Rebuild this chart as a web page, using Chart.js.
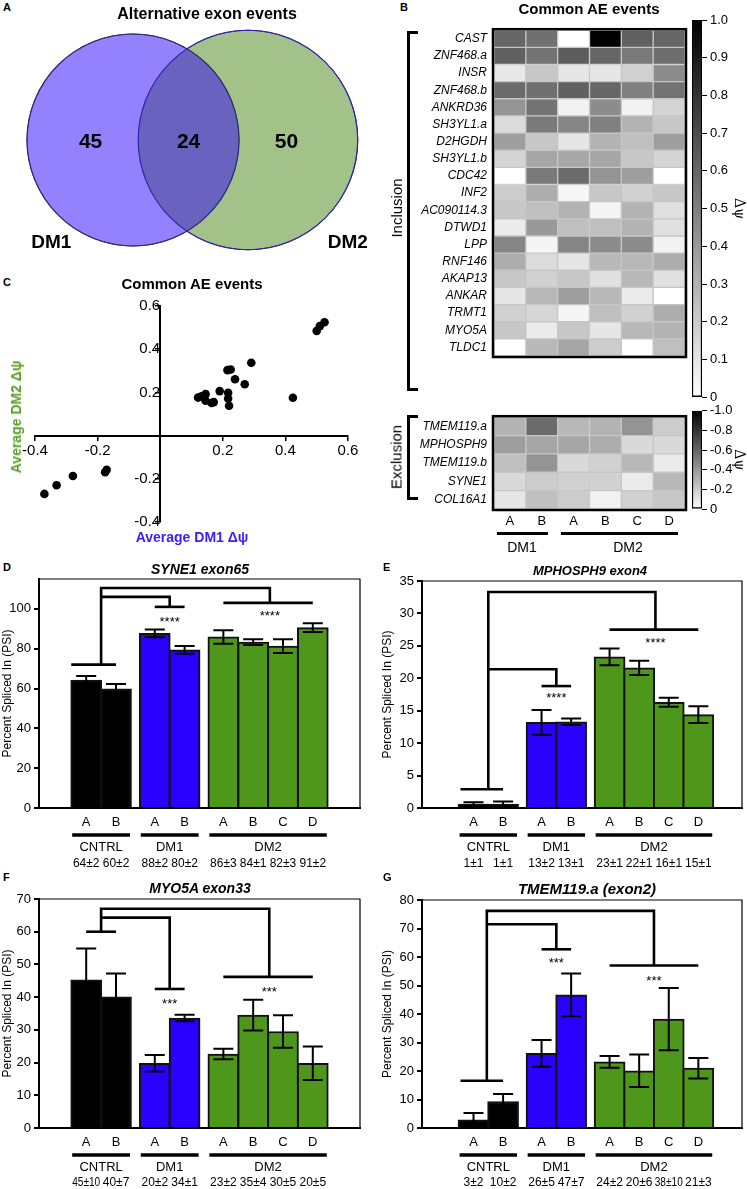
<!DOCTYPE html>
<html>
<head>
<meta charset="utf-8">
<script src="https://cdn.jsdelivr.net/npm/chart.js@4.4.1/dist/chart.umd.min.js"></script>
<style>
  body { margin: 0; width: 747px; height: 1189px; position: relative; background: #fff; overflow: hidden;
         font-family: "Liberation Sans", Arial, sans-serif; color: #000; }
  canvas { position: absolute; }
  .t { position: absolute; white-space: nowrap; transform: translate(-50%, -50%); z-index: 2; }
  .b { font-weight: bold; }
  .lt { position: absolute; font-weight: bold; font-size: 11px; }
  .rot { transform: translate(-50%, -50%) rotate(-90deg); }
  .ul { position: absolute; height: 3px; background: #000; }
  .br { position: absolute; border: 3px solid #000; border-right: none; width: 8px; }
</style>
</head>
<body>
<!-- A -->
<div class="lt" style="left:3px;top:1px">A</div>
<div class="t b" style="left:207px;top:14px;font-size:16px">Alternative exon events</div>
<canvas id="venn" width="390" height="270" style="left:0;top:0"></canvas>

<!-- B -->
<div class="lt" style="left:400px;top:1px">B</div>
<div class="t b" style="left:589px;top:8px;font-size:15px">Common AE events</div>
<canvas id="heatIncl" width="290" height="390" style="left:400px;top:16px"></canvas>
<canvas id="heatExcl" width="290" height="150" style="left:400px;top:403px"></canvas>
<canvas id="barIncl" width="59" height="400" style="left:688px;top:8px"></canvas>
<canvas id="barExcl" width="59" height="120" style="left:688px;top:400px"></canvas>
<div class="br" style="left:407px;top:31px;height:354px"></div>
<div class="t rot" style="left:396px;top:208px;font-size:15px">Inclusion</div>
<div class="br" style="left:407px;top:415px;height:79px"></div>
<div class="t rot" style="left:396px;top:457px;font-size:15px">Exclusion</div>
<div class="ul" style="left:497px;top:532px;width:51px"></div>
<div class="ul" style="left:561px;top:532px;width:117px"></div>
<div class="t" style="left:522px;top:547px;font-size:14px">DM1</div>
<div class="t" style="left:628px;top:547px;font-size:14px">DM2</div>

<!-- C -->
<div class="lt" style="left:3px;top:276px">C</div>
<div class="t b" style="left:192px;top:283px;font-size:15px">Common AE events</div>
<canvas id="scatter" width="390" height="260" style="left:0;top:290px"></canvas>
<div class="t b rot" style="left:16px;top:417px;font-size:14px;color:#5a9e28">Average DM2 Δψ</div>
<div class="t b" style="left:192px;top:537px;font-size:14px;color:#3a1cff">Average DM1 Δψ</div>

<!-- D-G -->
<div class="lt" style="left:3px;top:561px">D</div>
<div class="t b" style="left:200px;top:569px;font-size:14px;font-style:italic">SYNE1 exon65</div>
<canvas id="psiD" width="375" height="310" style="left:0;top:560px"></canvas>
<div class="lt" style="left:383px;top:561px">E</div>
<div class="t b" style="left:590px;top:570px;font-size:13px;font-style:italic">MPHOSPH9 exon4</div>
<canvas id="psiE" width="367" height="310" style="left:380px;top:560px"></canvas>
<div class="lt" style="left:3px;top:871px">F</div>
<div class="t b" style="left:200px;top:888px;font-size:14px;font-style:italic">MYO5A exon33</div>
<canvas id="psiF" width="375" height="319" style="left:0;top:870px"></canvas>
<div class="lt" style="left:383px;top:871px">G</div>
<div class="t b" style="left:587px;top:888px;font-size:15px;font-style:italic">TMEM119.a (exon2)</div>
<canvas id="psiG" width="367" height="319" style="left:380px;top:870px"></canvas>

<script>
// ---- data ----
const vennSets = ['DM1', 'DM2'];
const vennCounts = [45, 24, 50]; // DM1 only, shared, DM2 only

const heatCols = ['A', 'B', 'A', 'B', 'C', 'D'];
const inclGenes = ['CAST', 'ZNF468.a', 'INSR', 'ZNF468.b', 'ANKRD36', 'SH3YL1.a', 'D2HGDH', 'SH3YL1.b', 'CDC42',
  'INF2', 'AC090114.3', 'DTWD1', 'LPP', 'RNF146', 'AKAP13', 'ANKAR', 'TRMT1', 'MYO5A', 'TLDC1'];
const inclDpsi = [
  [0.60, 0.56, 0.00, 1.00, 0.62, 0.60],
  [0.62, 0.55, 0.64, 0.60, 0.52, 0.57],
  [0.09, 0.22, 0.10, 0.10, 0.18, 0.45],
  [0.58, 0.56, 0.62, 0.60, 0.50, 0.55],
  [0.42, 0.55, 0.05, 0.45, 0.05, 0.17],
  [0.14, 0.52, 0.48, 0.50, 0.30, 0.22],
  [0.38, 0.22, 0.10, 0.30, 0.25, 0.38],
  [0.17, 0.35, 0.34, 0.35, 0.22, 0.17],
  [0.00, 0.52, 0.58, 0.42, 0.38, 0.00],
  [0.20, 0.32, 0.03, 0.22, 0.18, 0.22],
  [0.22, 0.25, 0.30, 0.04, 0.30, 0.12],
  [0.08, 0.40, 0.25, 0.25, 0.30, 0.12],
  [0.48, 0.04, 0.48, 0.45, 0.45, 0.05],
  [0.32, 0.14, 0.10, 0.28, 0.28, 0.32],
  [0.22, 0.18, 0.22, 0.12, 0.28, 0.12],
  [0.10, 0.28, 0.38, 0.28, 0.08, 0.00],
  [0.18, 0.16, 0.04, 0.25, 0.18, 0.32],
  [0.22, 0.08, 0.22, 0.10, 0.28, 0.30],
  [0.00, 0.28, 0.35, 0.20, 0.00, 0.25]
];
const exclGenes = ['TMEM119.a', 'MPHOSPH9', 'TMEM119.b', 'SYNE1', 'COL16A1'];
const exclDpsi = [
  [-0.30, -0.58, -0.28, -0.30, -0.42, -0.20],
  [-0.38, -0.35, -0.35, -0.32, -0.15, -0.15],
  [-0.25, -0.42, -0.15, -0.18, -0.28, -0.08],
  [-0.15, -0.20, -0.18, -0.18, -0.08, -0.28],
  [-0.10, -0.25, -0.20, -0.05, -0.18, -0.22]
];

const dm1Avg = [0.50, 0.51, 0.525, 0.291, 0.215, 0.225, 0.239, 0.270, 0.190, 0.217, 0.217, 0.220, 0.424,
  0.121, 0.132, 0.145, 0.145, 0.164, 0.171, -0.171, -0.176, -0.279, -0.331, -0.370];
const dm2Avg = [0.485, 0.507, 0.525, 0.337, 0.303, 0.306, 0.261, 0.238, 0.206, 0.198, 0.172, 0.138, 0.175,
  0.176, 0.182, 0.192, 0.161, 0.151, 0.155, -0.158, -0.170, -0.187, -0.230, -0.270];

const barLetters = ['A', 'B', 'A', 'B', 'A', 'B', 'C', 'D'];
const barGroups = ['CNTRL', 'DM1', 'DM2'];
const groupSizes = [2, 2, 4];
const groupColors = ['#000000', '#2a00ff', '#4f971b'];

const synePsi = [64.3, 59.9, 87.7, 79.4, 85.9, 83.3, 81.3, 90.6];
const syneErr = [2.0, 2.4, 2.0, 2.0, 3.4, 1.4, 3.4, 2.2];
const syneLbl = ['64±2', '60±2', '88±2', '80±2', '86±3', '84±1', '82±3', '91±2'];

const mphPsi = [0.6, 0.6, 13.2, 13.3, 23.3, 21.6, 16.3, 14.4];
const mphErr = [0.3, 0.4, 1.9, 0.5, 1.3, 1.1, 0.7, 1.3];
const mphLbl = ['1±1', '1±1', '13±2', '13±1', '23±1', '22±1', '16±1', '15±1'];

const myoPsi = [45.3, 40.1, 19.8, 33.6, 22.6, 34.5, 29.5, 19.8];
const myoErr = [9.6, 7.1, 2.5, 1.0, 1.6, 4.7, 5.0, 5.1];
const myoLbl = ['45±10', '40±7', '20±2', '34±1', '23±2', '35±4', '30±5', '20±5'];

const tmemPsi = [2.9, 9.3, 26.2, 46.7, 23.2, 20.1, 38.2, 21.0];
const tmemErr = [2.4, 2.6, 4.7, 7.5, 2.1, 5.7, 10.9, 3.6];
const tmemLbl = ['3±2', '10±2', '26±5', '47±7', '24±2', '20±6', '38±10', '21±3'];

// ---- setup ----
Chart.defaults.font.family = '"Liberation Sans", Arial, sans-serif';
Chart.defaults.color = '#000';
Chart.defaults.animation = false;
Chart.defaults.responsive = false;
Chart.defaults.plugins.legend.display = false;
Chart.defaults.plugins.tooltip.enabled = false;

// bar slots: groups separated by a small gap
const barPos = [];
let p = 0;
groupSizes.forEach((n, g) => {
  for (let i = 0; i < n; i++) barPos.push(p + i);
  p += n + 0.3;
});
const barColors = [];
groupSizes.forEach((n, g) => { for (let i = 0; i < n; i++) barColors.push(groupColors[g]); });

// ---- A : venn ----
new Chart(document.getElementById('venn'), {
  type: 'bubble',
  data: {
    datasets: [
      { label: vennSets[0], data: [{ x: -1, y: 0, r: 12.76 * Math.sqrt(vennCounts[0] + vennCounts[1]) }],
        backgroundColor: '#9481fe', borderColor: '#2f2f70', borderWidth: 1, clip: false },
      { label: vennSets[1], data: [{ x: 1, y: 0, r: 12.76 * Math.sqrt(vennCounts[2] + vennCounts[1]) }],
        backgroundColor: '#a3c28a', borderColor: '#2f2f70', borderWidth: 1, clip: false }
    ]
  },
  options: {
    layout: { padding: 0, autoPadding: false },
    scales: {
      x: { display: false, min: -3.313, max: 3.47 },
      y: { display: false, min: -0.963, max: 1.037 }
    }
  },
  plugins: [{
    id: 'vennOverlap',
    afterDatasetsDraw(chart) {
      const ctx = chart.ctx;
      const a = chart.getDatasetMeta(0).data[0], b = chart.getDatasetMeta(1).data[0];
      const ra = a.options.radius, rb = b.options.radius;
      ctx.save();
      ctx.beginPath(); ctx.arc(a.x, a.y, ra, 0, Math.PI * 2); ctx.clip();
      ctx.beginPath(); ctx.arc(b.x, b.y, rb, 0, Math.PI * 2);
      ctx.fillStyle = '#6a62bf'; ctx.fill();
      ctx.restore();
      ctx.save();
      ctx.lineWidth = 1.2;
      ctx.strokeStyle = '#2f2f70';
      ctx.beginPath(); ctx.arc(a.x, a.y, ra, 0, Math.PI * 2); ctx.stroke();
      ctx.strokeStyle = '#2e22b0';
      ctx.beginPath(); ctx.arc(b.x, b.y, rb, 0, Math.PI * 2); ctx.stroke();
      ctx.fillStyle = '#000';
      ctx.textAlign = 'center'; ctx.textBaseline = 'middle';
      ctx.font = 'bold 21px "Liberation Sans", Arial, sans-serif';
      const xi = (b.x - rb + a.x + ra) / 2;
      ctx.fillText(vennCounts[0], a.x - 0.4 * ra, a.y + 2);
      ctx.fillText(vennCounts[1], xi, a.y + 2);
      ctx.fillText(vennCounts[2], b.x + 0.35 * rb, a.y + 2);
      ctx.font = 'bold 19px "Liberation Sans", Arial, sans-serif';
      ctx.fillText(vennSets[0], a.x - 0.77 * ra, a.y + 103);
      ctx.fillText(vennSets[1], b.x + 0.91 * rb, a.y + 103);
      ctx.restore();
    }
  }]
});

// ---- B : heatmaps ----
function gray(v) {
  const g = Math.round(255 * (1 - Math.min(1, Math.abs(v))));
  return `rgb(${g},${g},${g})`;
}

const heatFrame = {
  id: 'heatFrame',
  afterDatasetsDraw(chart) {
    const { ctx, chartArea: a } = chart;
    ctx.save();
    ctx.lineWidth = 2.5;
    ctx.strokeStyle = '#000';
    ctx.strokeRect(a.left - 1, a.top - 1, a.right - a.left + 2, a.bottom - a.top + 2);
    ctx.restore();
  }
};

function heatChart(id, genes, vals, showCols, pad) {
  return new Chart(document.getElementById(id), {
    type: 'bar',
    data: {
      labels: genes,
      datasets: heatCols.map((c, j) => ({
        label: c,
        data: genes.map(() => [j, j + 1]),
        backgroundColor: vals.map(row => gray(row[j])),
        borderColor: '#c6c6c6',
        borderWidth: 1,
        borderSkipped: false,
        grouped: false,
        barPercentage: 1,
        categoryPercentage: 1
      }))
    },
    options: {
      indexAxis: 'y',
      layout: { padding: pad },
      scales: {
        x: {
          type: 'linear', min: 0, max: 6, display: showCols,
          afterBuildTicks: s => { s.ticks = heatCols.map((c, j) => ({ value: j + 0.5 })); },
          ticks: { callback: (v, i) => heatCols[i], font: { size: 13 }, padding: 5, maxRotation: 0, autoSkip: false },
          grid: { display: false, drawTicks: false, tickLength: 0 },
          border: { display: false },
          afterFit: s => { s.height = 44; }
        },
        y: {
          ticks: { font: { size: 12, style: 'italic' }, padding: 7, autoSkip: false },
          grid: { display: false, drawTicks: false, tickLength: 0 },
          border: { display: false },
          afterFit: s => { s.width = 94; }
        }
      }
    },
    plugins: [heatFrame]
  });
}
heatChart('heatIncl', inclGenes, inclDpsi, false, { top: 5, bottom: 6, right: 5 });
heatChart('heatExcl', exclGenes, exclDpsi, true, { top: 5, right: 5 });

function colorBar(id, min, max, reverse, pad) {
  return new Chart(document.getElementById(id), {
    type: 'bar',
    data: {
      labels: [''],
      datasets: [{
        data: [[min, max]],
        backgroundColor: ctx => {
          const a = ctx.chart.chartArea;
          if (!a) return '#888';
          const g = ctx.chart.ctx.createLinearGradient(0, a.bottom, 0, a.top);
          g.addColorStop(0, '#ffffff');
          g.addColorStop(1, '#000000');
          return g;
        },
        borderColor: '#000',
        borderWidth: 1.5,
        borderSkipped: false,
        barPercentage: 1,
        categoryPercentage: 1
      }]
    },
    options: {
      layout: { padding: pad },
      scales: {
        x: { display: false },
        y: {
          position: 'right', min, max, reverse,
          ticks: { stepSize: reverse ? 0.2 : 0.1, font: { size: 13 }, padding: 3,
                   callback: v => Math.abs(v) < 1e-9 ? '0' : v.toFixed(1) },
          grid: { drawOnChartArea: false, tickLength: 5, color: '#000', lineWidth: 1 },
          border: { display: false },
          title: { display: true, text: 'Δψ', font: { size: 14, family: '"DejaVu Serif", serif' }, padding: 0 },
          afterFit: s => { s.width = 45; }
        }
      }
    }
  });
}
colorBar('barIncl', 0, 1, false, { top: 12, bottom: 8, left: 4 });
colorBar('barExcl', -1, 0, true, { top: 8, bottom: 11, left: 4 });

// ---- C : scatter ----
new Chart(document.getElementById('scatter'), {
  type: 'scatter',
  data: {
    datasets: [{
      data: dm1Avg.map((x, i) => ({ x, y: dm2Avg[i] })),
      pointRadius: 4.3,
      backgroundColor: '#000',
      borderWidth: 0
    }]
  },
  options: {
    layout: { padding: { left: 35, right: 42, top: 16, bottom: 28 } },
    scales: {
      x: {
        type: 'linear', min: -0.4, max: 0.6, position: { y: 0 },
        ticks: { stepSize: 0.2, font: { size: 15 }, padding: 2,
                 callback: v => Math.abs(v) < 1e-9 ? '' : v.toFixed(1) },
        grid: { drawOnChartArea: false, tickLength: 4, color: '#000', lineWidth: 1.5 },
        border: { color: '#000', width: 2 }
      },
      y: {
        type: 'linear', min: -0.4, max: 0.6, position: { x: 0 },
        ticks: { stepSize: 0.2, font: { size: 15 }, padding: 2,
                 callback: v => Math.abs(v) < 1e-9 ? '' : v.toFixed(1) },
        grid: { drawOnChartArea: false, tickLength: 4, color: '#000', lineWidth: 1.5 },
        border: { color: '#000', width: 2 }
      }
    }
  }
});

// ---- D-G : PSI bar charts ----
const psiExtras = {
  id: 'psiExtras',
  afterDatasetsDraw(chart, args, o) {
    const { ctx, chartArea: a } = chart;
    const xs = chart.scales.x, ys = chart.scales.y;
    const X = v => xs.getPixelForValue(v), Y = v => ys.getPixelForValue(v);
    ctx.save();
    // frame top + right
    ctx.strokeStyle = '#000';
    ctx.lineWidth = 1.2;
    ctx.beginPath();
    ctx.moveTo(a.left, a.top); ctx.lineTo(a.right, a.top); ctx.lineTo(a.right, a.bottom);
    ctx.stroke();
    // error bars
    ctx.lineWidth = 2;
    o.psi.forEach((v, i) => {
      const x = X(barPos[i]), y1 = Y(v + o.err[i]), y0 = Y(v - o.err[i]);
      ctx.beginPath();
      ctx.moveTo(x, y0); ctx.lineTo(x, y1);
      ctx.moveTo(x - 10, y1); ctx.lineTo(x + 10, y1);
      ctx.moveTo(x - 10, y0); ctx.lineTo(x + 10, y0);
      ctx.stroke();
    });
    // significance brackets
    const s = o.sig;
    const seg = pts => {
      ctx.beginPath();
      pts.forEach(([px, py], k) => k ? ctx.lineTo(X(px), Y(py)) : ctx.moveTo(X(px), Y(py)));
      ctx.stroke();
    };
    ctx.lineWidth = 2.6;
    ctx.lineJoin = 'miter';
    seg([[s.ctrl[0], s.ctrl[2]], [s.ctrl[1], s.ctrl[2]]]);
    seg([[s.xv, s.ctrl[2]], [s.xv, s.top], [s.dm2[0], s.top], [s.dm2[0], s.dm2[1]]]);
    seg([[barPos[4], s.dm2[1]], [barPos[7], s.dm2[1]]]);
    seg([[s.xv, s.mid], [s.dm1[0], s.mid], [s.dm1[0], s.dm1[1]]]);
    seg([[barPos[2], s.dm1[1]], [barPos[3], s.dm1[1]]]);
    ctx.fillStyle = '#000';
    ctx.textAlign = 'center';
    ctx.textBaseline = 'middle';
    ctx.font = '13px "Liberation Sans", Arial, sans-serif';
    ctx.fillText(s.stars, X(s.dm1[0]), Y(s.s1) + 3);
    ctx.fillText(s.stars, X(s.dm2[0]), Y(s.s2) + 3);
    // group lines, names and values under the axis
    let k = 0;
    groupSizes.forEach((n, g) => {
      const x0 = X(barPos[k] - 0.47), x1 = X(barPos[k + n - 1] + 0.47);
      ctx.lineWidth = 3.5;
      ctx.beginPath(); ctx.moveTo(x0, a.bottom + 27); ctx.lineTo(x1, a.bottom + 27); ctx.stroke();
      ctx.font = '13px "Liberation Sans", Arial, sans-serif';
      ctx.fillText(barGroups[g], (X(barPos[k]) + X(barPos[k + n - 1])) / 2, a.bottom + 39);
      k += n;
    });
    ctx.font = '12px "Liberation Sans", Arial, sans-serif';
    o.lbl.forEach((t, i) => ctx.fillText(t, X(barPos[i]), a.bottom + o.valOff, 28));
    ctx.restore();
  }
};

function psiChart(id, psi, err, lbl, cfg) {
  return new Chart(document.getElementById(id), {
    type: 'bar',
    data: {
      datasets: [{
        data: barPos.map((x, i) => ({ x, y: psi[i] })),
        backgroundColor: barColors,
        borderColor: '#111',
        borderWidth: 2,
        barThickness: 31
      }]
    },
    options: {
      layout: { padding: { top: cfg.padTop, right: cfg.padRight } },
      scales: {
        x: {
          type: 'linear', min: cfg.xMin, max: cfg.xMax,
          afterBuildTicks: s => { s.ticks = barPos.map(v => ({ value: v })); },
          ticks: { callback: (v, i) => barLetters[i], font: { size: 13 }, padding: 7, maxRotation: 0, autoSkip: false },
          grid: { display: false, drawTicks: false, tickLength: 0 },
          border: { color: '#000', width: 2 },
          afterFit: s => { s.height = cfg.xH; }
        },
        y: {
          min: 0, max: cfg.yMax,
          afterBuildTicks: s => {
            const t = [];
            for (let v = 0; v <= cfg.yTop + 1e-9; v += cfg.yStep) t.push({ value: v });
            s.ticks = t;
          },
          ticks: { font: { size: 13 }, padding: 3 },
          grid: { drawOnChartArea: false, tickLength: 5, color: '#000', lineWidth: 2 },
          border: { color: '#000', width: 2 },
          title: { display: true, text: 'Percent Spliced In (PSI)', font: { size: 12 }, padding: 0 },
          afterFit: s => { s.width = cfg.leftW; }
        }
      },
      plugins: { psiExtras: { psi, err, lbl, sig: cfg.sig, valOff: cfg.valOff } }
    },
    plugins: [psiExtras]
  });
}

psiChart('psiD', synePsi, syneErr, syneLbl, {
  leftW: 39, padTop: 19, padRight: 15, xH: 62, xMin: -0.91, xMax: 8.51, yMax: 115, yTop: 100, yStep: 20, valOff: 56,
  sig: { ctrl: [-0.5, 1.0, 72], xv: 0.5, top: 110.5, mid: 106, dm1: [2.8, 101], dm2: [6.16, 103], stars: '****', s1: 94.5, s2: 97.5 }
});
psiChart('psiE', mphPsi, mphErr, mphLbl, {
  leftW: 42, padTop: 21, padRight: 5, xH: 62, xMin: -1.065, xMax: 8.40, yMax: 35, yTop: 35, yStep: 5, valOff: 56,
  sig: { ctrl: [-0.44, 1.0, 2.9], xv: 0.5, top: 33.3, mid: 21.4, dm1: [2.8, 18.8], dm2: [6.15, 27.5], stars: '****', s1: 17.4, s2: 25.9 }
});
psiChart('psiF', myoPsi, myoErr, myoLbl, {
  leftW: 39, padTop: 29, padRight: 15, xH: 61, xMin: -0.91, xMax: 8.51, yMax: 70, yTop: 70, yStep: 10, valOff: 55,
  sig: { ctrl: [0, 1.0, 60], xv: 0.5, top: 67, mid: 64.3, dm1: [2.8, 42.5], dm2: [6.14, 46.2], stars: '***', s1: 38.6, s2: 42.5 }
});
psiChart('psiG', tmemPsi, tmemErr, tmemLbl, {
  leftW: 42, padTop: 30, padRight: 5, xH: 61, xMin: -1.065, xMax: 8.40, yMax: 80, yTop: 80, yStep: 10, valOff: 55,
  sig: { ctrl: [-0.44, 1.0, 16.6], xv: 0.45, top: 76.2, mid: 71.5, dm1: [2.8, 62.7], dm2: [6.1, 57], stars: '***', s1: 58.7, s2: 52.6 }
});
</script>
</body>
</html>
